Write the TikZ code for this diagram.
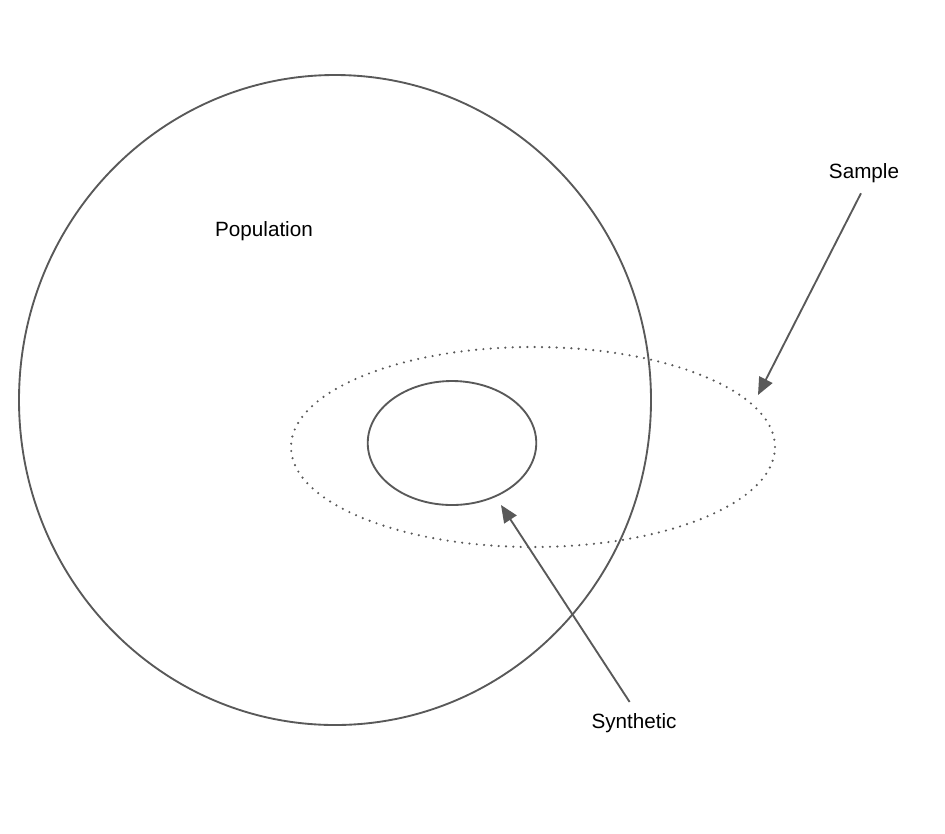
\documentclass[tikz,border=0pt]{standalone}
\usepackage{fontspec}
\setmainfont{Liberation Sans}
\usetikzlibrary{arrows.meta}

\definecolor{linegray}{HTML}{595959}

\begin{document}
\begin{tikzpicture}[x=0.75pt,y=-0.75pt,
    outline/.style={draw=linegray,line width=1.4pt},
    dotline/.style={draw=linegray,line width=1.8pt,line cap=round,dash pattern=on 0pt off 5.5pt},
    pointer/.style={draw=linegray,line width=1.4pt,-{Triangle[length=13pt,width=11pt]},fill=linegray},
    label/.style={font=\fontsize{15.5}{18}\selectfont,text=black}]
  \useasboundingbox (0,0) rectangle (945,833);
  \begin{scope}
    % population, sample and synthetic sets
    \draw[outline] (335,400) ellipse [x radius=237pt,y radius=243.75pt];
    \draw[dotline] (533,447) ellipse [x radius=181.5pt,y radius=75pt];
    \draw[outline] (452,443) ellipse [x radius=63.2pt,y radius=46.5pt];
    \node[label] (population) at (264,231) {Population};
    \node[label] (sample) at (864,173) {Sample};
    \node[label] (synthetic) at (634,723) {Synthetic};
    \coordinate (sampletip) at (758,395);
    \coordinate (synthetictip) at (501,505);
    \draw[pointer,shorten <=5pt] (sample.south) -- (sampletip);
    \draw[pointer,shorten <=6pt] (synthetic.north) -- (synthetictip);
  \end{scope}
\end{tikzpicture}
\end{document}
